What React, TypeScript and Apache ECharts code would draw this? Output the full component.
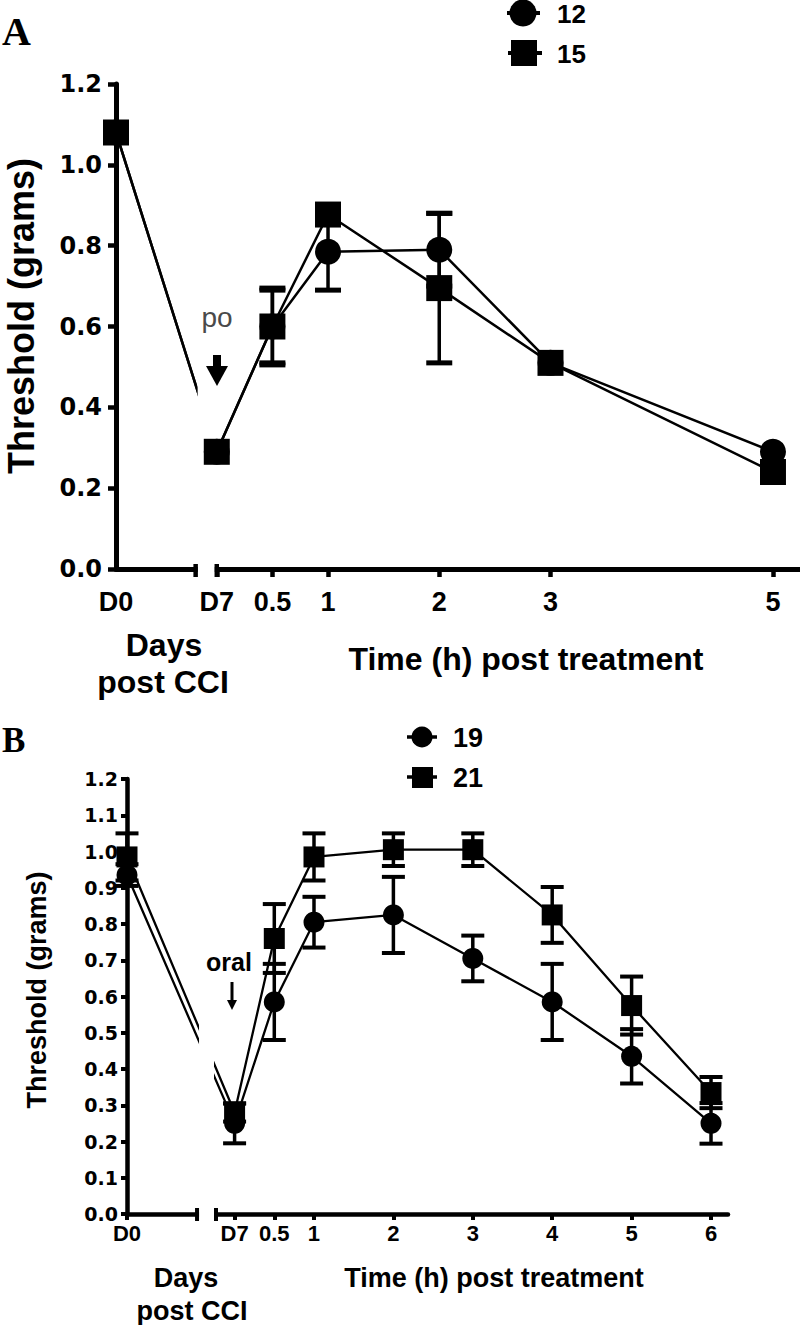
import { useEffect, useRef } from 'react';
import * as echarts from 'echarts';

// ---------- Panel A data ----------
const labelsA = ['D0', 'D7', '0.5', '1', '2', '3', '5'];
const xA = [-0.906, 0, 0.5, 1, 2, 3, 5];
const tickA = [0, 0.5, 1, 2, 3, 5];
const a12 = [1.08, 0.29, 0.6, 0.785, 0.79, 0.51, 0.29];
const a12err = [0, 0, 0.09, 0.095, 0.09, 0, 0];
const a15 = [1.08, 0.29, 0.6, 0.877, 0.695, 0.51, 0.24];
const a15err = [0, 0, 0.095, 0, 0.185, 0, 0];
const breakA = [-0.19, 0];

// ---------- Panel B data ----------
const labelsB = ['D0', 'D7', '0.5', '1', '2', '3', '4', '5', '6'];
const xB = [-1.355, 0, 0.5, 1, 2, 3, 4, 5, 6];
const b19 = [0.935, 0.25, 0.585, 0.805, 0.825, 0.705, 0.585, 0.435, 0.25];
const b19err = [0.03, 0.055, 0.105, 0.07, 0.105, 0.063, 0.105, 0.075, 0.056];
const b21 = [0.985, 0.28, 0.76, 0.985, 1.005, 1.005, 0.825, 0.575, 0.335];
const b21err = [0.065, 0.025, 0.095, 0.065, 0.045, 0.045, 0.077, 0.08, 0.043];
const breakB = [-0.473, -0.234];

const ARIAL = '"Liberation Sans", Arial, sans-serif';
const DEJAVU = '"DejaVu Sans", sans-serif';

function pairs(xs: number[], ys: number[]) {
  return xs.map((x, i) => [x, ys[i]]);
}
function errData(xs: number[], ys: number[], es: number[]) {
  return xs.map((x, i) => [x, ys[i], es[i]]).filter((d) => d[2] > 0);
}

function errRender(capW: number, lw: number, capLw: number) {
  return (_p: any, api: any) => {
    const x = api.value(0);
    const y = api.value(1);
    const e = api.value(2);
    const top = api.coord([x, y + e]);
    const bot = api.coord([x, y - e]);
    const st = { stroke: '#000', lineWidth: lw };
    const cs = { stroke: '#000', lineWidth: capLw };
    return {
      type: 'group',
      children: [
        { type: 'line', shape: { x1: top[0], y1: top[1], x2: bot[0], y2: bot[1] }, style: st },
        { type: 'line', shape: { x1: top[0] - capW / 2, y1: top[1], x2: top[0] + capW / 2, y2: top[1] }, style: cs },
        { type: 'line', shape: { x1: bot[0] - capW / 2, y1: bot[1], x2: bot[0] + capW / 2, y2: bot[1] }, style: cs },
      ],
    };
  };
}

function labelFor(xs: number[], labels: string[]) {
  return (v: number) => {
    for (let i = 0; i < xs.length; i++) if (Math.abs(xs[i] - v) < 1e-6) return labels[i];
    return '';
  };
}

function txt(text: string, x: number, y: number, size: number, opts: any = {}) {
  return {
    type: 'text',
    x,
    y,
    rotation: opts.rotation || 0,
    z: 10,
    style: {
      text,
      fontSize: size,
      fontWeight: opts.weight || 'bold',
      fontFamily: opts.family || ARIAL,
      fill: opts.color || '#000',
      align: opts.align || 'center',
      textAlign: opts.align || 'center',
      verticalAlign: 'middle',
      textVerticalAlign: 'middle',
    },
  };
}

export default function App() {
  const ref = useRef<HTMLDivElement>(null);
  useEffect(() => {
    if (!ref.current) return;
    const chart = echarts.init(ref.current, undefined, { renderer: 'svg' });
    const option: any = {
      animation: false,
      backgroundColor: '#fff',
      grid: [
        { left: 116, top: 84, width: 684, height: 485 },
        { left: 127, top: 779, width: 601, height: 435 },
      ],
      xAxis: [
        {
          gridIndex: 0,
          type: 'value',
          min: xA[0],
          max: 5.243,
          splitLine: { show: false },
          axisLine: { onZero: false, lineStyle: { color: '#000', width: 5 } },
          axisTick: { customValues: tickA, length: 8, lineStyle: { color: '#000', width: 4.5 } },
          axisLabel: {
            customValues: xA,
            formatter: labelFor(xA, labelsA),
            color: '#000',
            fontFamily: ARIAL,
            fontWeight: 'bold',
            fontSize: 27,
            margin: 19,
          },
        },
        {
          gridIndex: 1,
          type: 'value',
          min: xB[0],
          max: 6.214,
          splitLine: { show: false },
          axisLine: { onZero: false, lineStyle: { color: '#000', width: 4.5 } },
          axisTick: { customValues: xB, length: 6, lineStyle: { color: '#000', width: 4 } },
          axisLabel: {
            customValues: xB,
            formatter: labelFor(xB, labelsB),
            color: '#000',
            fontFamily: ARIAL,
            fontWeight: 'bold',
            fontSize: 22,
            margin: 8,
          },
        },
      ],
      yAxis: [
        {
          gridIndex: 0,
          type: 'value',
          min: 0,
          max: 1.2,
          interval: 0.2,
          splitLine: { show: false },
          axisLine: { show: true, onZero: false, lineStyle: { color: '#000', width: 5 } },
          axisTick: { show: true, length: 8, lineStyle: { color: '#000', width: 4.5 } },
          axisLabel: {
            formatter: (v: number) => v.toFixed(1),
            color: '#000',
            fontFamily: DEJAVU,
            fontWeight: 'bold',
            fontSize: 24,
            margin: 14,
          },
        },
        {
          gridIndex: 1,
          type: 'value',
          min: 0,
          max: 1.2,
          interval: 0.1,
          splitLine: { show: false },
          axisLine: { show: true, onZero: false, lineStyle: { color: '#000', width: 4.5 } },
          axisTick: { show: true, length: 6, lineStyle: { color: '#000', width: 4 } },
          axisLabel: {
            formatter: (v: number) => v.toFixed(1),
            color: '#000',
            fontFamily: DEJAVU,
            fontWeight: 'bold',
            fontSize: 19,
            margin: 9,
          },
        },
      ],
      series: [
        // Panel A lines
        { name: '12', type: 'line', xAxisIndex: 0, yAxisIndex: 0, data: pairs(xA, a12), showSymbol: false, lineStyle: { color: '#000', width: 2.5 }, z: 2, silent: true },
        { name: '15', type: 'line', xAxisIndex: 0, yAxisIndex: 0, data: pairs(xA, a15), showSymbol: false, lineStyle: { color: '#000', width: 2.5 }, z: 2, silent: true },
        // Panel A error bars
        { type: 'custom', xAxisIndex: 0, yAxisIndex: 0, data: errData(xA, a12, a12err), renderItem: errRender(26, 3.5, 5), encode: { x: 0, y: 1 }, z: 4, silent: true },
        { type: 'custom', xAxisIndex: 0, yAxisIndex: 0, data: errData(xA, a15, a15err), renderItem: errRender(26, 3.5, 5), encode: { x: 0, y: 1 }, z: 4, silent: true },
        // Panel A markers
        { type: 'scatter', xAxisIndex: 0, yAxisIndex: 0, data: pairs(xA, a12), symbol: 'circle', symbolSize: 26, itemStyle: { color: '#000', opacity: 1 }, z: 5, silent: true },
        { type: 'scatter', xAxisIndex: 0, yAxisIndex: 0, data: pairs(xA, a15), symbol: 'rect', symbolSize: 26, itemStyle: { color: '#000', opacity: 1 }, z: 6, silent: true },
        // Panel B lines
        { name: '19', type: 'line', xAxisIndex: 1, yAxisIndex: 1, data: pairs(xB, b19), showSymbol: false, lineStyle: { color: '#000', width: 2.3 }, z: 2, silent: true },
        { name: '21', type: 'line', xAxisIndex: 1, yAxisIndex: 1, data: pairs(xB, b21), showSymbol: false, lineStyle: { color: '#000', width: 2.3 }, z: 2, silent: true },
        // Panel B error bars
        { type: 'custom', xAxisIndex: 1, yAxisIndex: 1, data: errData(xB, b19, b19err), renderItem: errRender(23, 3.5, 4), encode: { x: 0, y: 1 }, z: 4, silent: true },
        { type: 'custom', xAxisIndex: 1, yAxisIndex: 1, data: errData(xB, b21, b21err), renderItem: errRender(23, 3.5, 4), encode: { x: 0, y: 1 }, z: 4, silent: true },
        // Panel B markers
        { type: 'scatter', xAxisIndex: 1, yAxisIndex: 1, data: pairs(xB, b19), symbol: 'circle', symbolSize: 21, itemStyle: { color: '#000', opacity: 1 }, z: 5, silent: true },
        { type: 'scatter', xAxisIndex: 1, yAxisIndex: 1, data: pairs(xB, b21), symbol: 'rect', symbolSize: 21, itemStyle: { color: '#000', opacity: 1 }, z: 6, silent: true },
      ],
    };
    chart.setOption(option);

    const gfx: any[] = [];
    // axis breaks
    const addBreak = (gi: number, br: number[], capUp: number, capDn: number, lw: number) => {
      const p1 = chart.convertToPixel({ gridIndex: gi }, [br[0], 0]) as number[];
      const p2 = chart.convertToPixel({ gridIndex: gi }, [br[1], 0]) as number[];
      const top = chart.convertToPixel({ gridIndex: gi }, [br[0], 1.2]) as number[];
      gfx.push({
        type: 'rect',
        z: 3,
        shape: { x: p1[0] + 2, y: top[1] - 5, width: p2[0] - p1[0] - 4, height: p1[1] - top[1] + 13 },
        style: { fill: '#fff' },
      });
      [p1[0], p2[0]].forEach((px) =>
        gfx.push({
          type: 'line',
          z: 7,
          shape: { x1: px, y1: p1[1] - capUp, x2: px, y2: p1[1] + capDn },
          style: { stroke: '#000', lineWidth: lw },
        })
      );
    };
    addBreak(0, breakA, 5, 8, 4.5);
    addBreak(1, breakB, 6, 7, 4);

    // panel letters
    gfx.push(txt('A', 2, 31, 40, { family: '"Liberation Serif", "Times New Roman", serif', align: 'left' }));
    gfx.push(txt('B', 2, 740, 35, { family: '"Liberation Serif", "Times New Roman", serif', align: 'left' }));

    // y titles
    gfx.push(txt('Threshold (grams)', 21, 316, 36, { rotation: Math.PI / 2 }));
    gfx.push(txt('Threshold (grams)', 37, 990, 27, { rotation: Math.PI / 2 }));

    // x titles A
    gfx.push(txt('Days', 164, 645, 32));
    gfx.push(txt('post CCI', 163, 682, 32));
    gfx.push(txt('Time (h) post treatment', 526, 659, 32));
    // x titles B
    gfx.push(txt('Days', 186, 1278, 27));
    gfx.push(txt('post CCI', 192, 1311, 27));
    gfx.push(txt('Time (h) post treatment', 494, 1278, 27));

    // annotations
    gfx.push(txt('po', 217, 317, 28, { weight: 'normal', color: '#4a4a4a' }));
    gfx.push({ type: 'rect', z: 10, shape: { x: 213, y: 355, width: 8, height: 12 }, style: { fill: '#000' } });
    gfx.push({ type: 'polygon', z: 10, shape: { points: [[206, 366], [228, 366], [217, 386]] }, style: { fill: '#000' } });
    gfx.push(txt('oral', 229, 962, 25));
    gfx.push({ type: 'line', z: 10, shape: { x1: 232, y1: 982, x2: 232, y2: 1002 }, style: { stroke: '#000', lineWidth: 3 } });
    gfx.push({ type: 'polygon', z: 10, shape: { points: [[227, 1000], [237, 1000], [232, 1010]] }, style: { fill: '#000' } });

    // legend A
    gfx.push({ type: 'line', z: 10, shape: { x1: 507, y1: 13, x2: 540, y2: 13 }, style: { stroke: '#000', lineWidth: 4 } });
    gfx.push({ type: 'circle', z: 11, shape: { cx: 523, cy: 13, r: 13.5 }, style: { fill: '#000' } });
    gfx.push(txt('12', 557, 14, 26, { align: 'left' }));
    gfx.push({ type: 'line', z: 10, shape: { x1: 508, y1: 53, x2: 542, y2: 53 }, style: { stroke: '#000', lineWidth: 4 } });
    gfx.push({ type: 'rect', z: 11, shape: { x: 511, y: 40, width: 26, height: 26 }, style: { fill: '#000' } });
    gfx.push(txt('15', 557, 54, 26, { align: 'left' }));
    // legend B
    gfx.push({ type: 'line', z: 10, shape: { x1: 407, y1: 737, x2: 437, y2: 737 }, style: { stroke: '#000', lineWidth: 3.5 } });
    gfx.push({ type: 'circle', z: 11, shape: { cx: 422, cy: 737, r: 10.5 }, style: { fill: '#000' } });
    gfx.push(txt('19', 453, 738, 27, { align: 'left' }));
    gfx.push({ type: 'line', z: 10, shape: { x1: 407, y1: 777, x2: 437, y2: 777 }, style: { stroke: '#000', lineWidth: 3.5 } });
    gfx.push({ type: 'rect', z: 11, shape: { x: 412, y: 767, width: 21, height: 21 }, style: { fill: '#000' } });
    gfx.push(txt('21', 453, 778, 27, { align: 'left' }));

    chart.setOption({ graphic: gfx });
    return () => chart.dispose();
  }, []);
  return <div ref={ref} style={{ position: 'absolute', left: 0, top: 0, width: 800, height: 1325 }} />;
}
